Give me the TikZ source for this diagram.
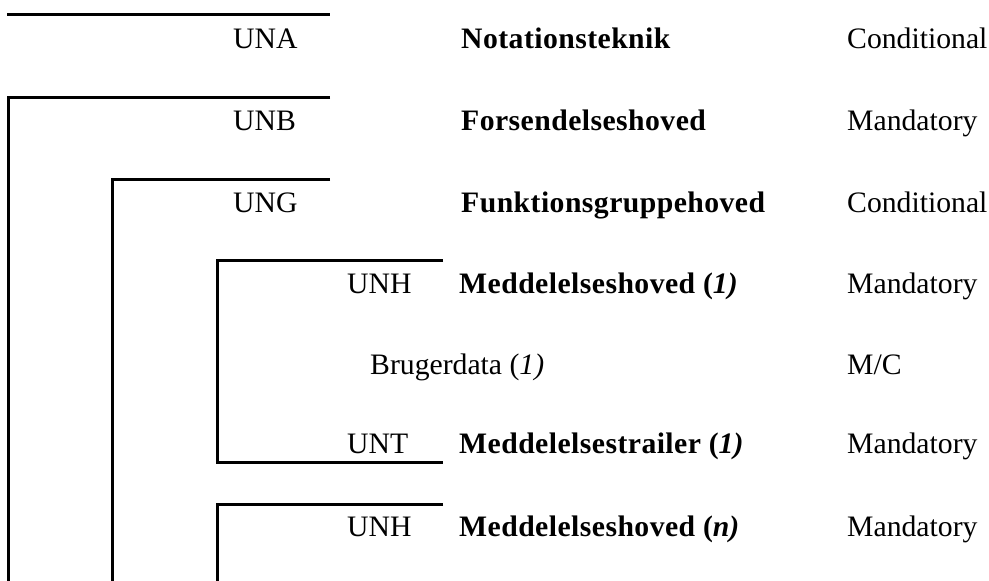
\documentclass[tikz,border=0pt]{standalone}
\usepackage{fontspec}
\setmainfont{Liberation Serif}[BoldFeatures={LetterSpace=1.5}]
\tikzstyle{seg}=[anchor=base west, inner sep=0pt, font=\fontsize{29.7}{36}\selectfont]
\tikzstyle{bracket}=[line width=3pt]

\begin{document}
\begin{tikzpicture}[x=1pt,y=-1pt]
  \useasboundingbox (0,0) rectangle (989,581);
  %% Segment tags
  \draw (233,48) node[seg] (UNA) {UNA};
  \draw (233,130) node[seg] (UNB) {UNB};
  \draw (233,212) node[seg] (UNG) {UNG};
  \draw (347,293.5) node[seg] (UNH1) {UNH};
  \draw (370,374) node[seg] (data) {Brugerdata (\textit{1)}};
  \draw (347,453.5) node[seg] (UNT) {UNT};
  \draw (347,536.5) node[seg] (UNHn) {UNH};

  %% Names
  \draw (461,48) node[seg] (nameA) {\textbf{Notationsteknik}};
  \draw (461,130) node[seg] (nameB) {\textbf{Forsendelseshoved}};
  \draw (461,212) node[seg] (nameG) {\textbf{Funktionsgruppehoved}};
  \draw (459,293.5) node[seg] (nameH1) {\textbf{Meddelelseshoved (\textit{1)}}};
  \draw (459,453.5) node[seg] (nameT) {\textbf{Meddelelsestrailer (\textit{1)}}};
  \draw (459,536.5) node[seg] (nameHn) {\textbf{Meddelelseshoved (\textit{n)}}};

  %% Status
  \draw (847,48) node[seg] (stA) {Conditional};
  \draw (847,130) node[seg] (stB) {Mandatory};
  \draw (847,212) node[seg] (stG) {Conditional};
  \draw (847,293.5) node[seg] (stH1) {Mandatory};
  \draw (847,374) node[seg] (stD) {M/C};
  \draw (847,453.5) node[seg] (stT) {Mandatory};
  \draw (847,536.5) node[seg] (stHn) {Mandatory};

  %% Brackets
  \draw[bracket] (7,14.5) -- (330,14.5);
  \draw[bracket] (330,97) -- (8,97) -- (8,581);
  \draw[bracket] (330,179) -- (112,179) -- (112,581);
  \draw[bracket] (443,260.5) -- (217,260.5) -- (217,462) -- (443,462);
  \draw[bracket] (443,504.5) -- (217,504.5) -- (217,581);
\end{tikzpicture}
\end{document}
